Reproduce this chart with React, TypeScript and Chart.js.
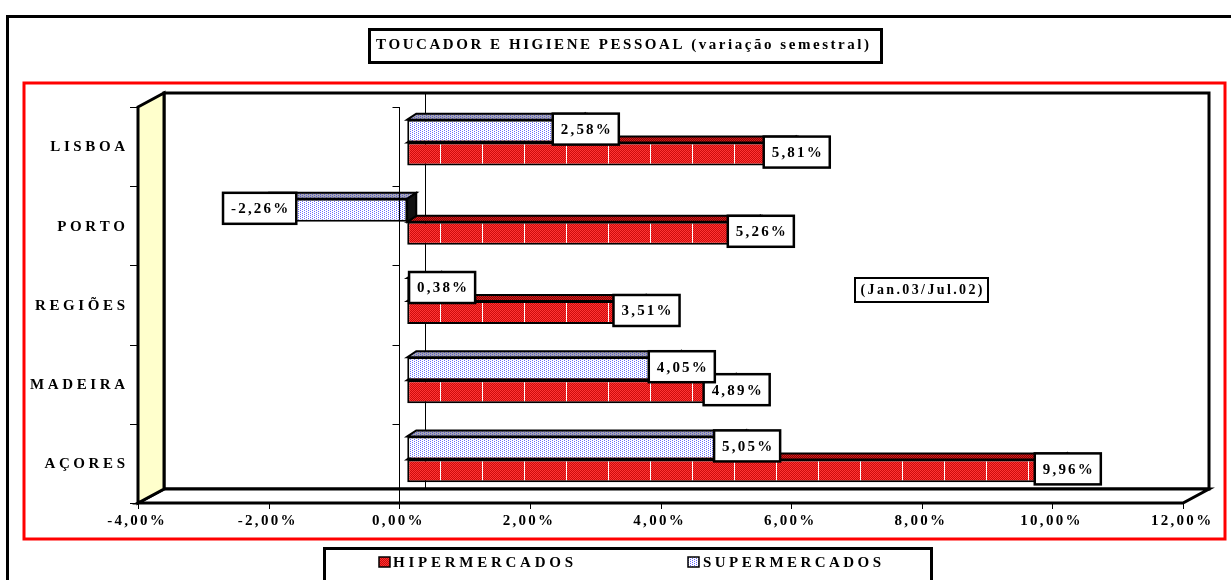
import React, { useEffect, useRef } from "react";
import { Chart, registerables } from "chart.js";

Chart.register(...registerables);

const TITLE = "TOUCADOR E HIGIENE PESSOAL (variação semestral)";
const PERIOD = "(Jan.03/Jul.02)";
const CATEGORIES = ["LISBOA", "PORTO", "REGIÕES", "MADEIRA", "AÇORES"];
const HIPER = [5.81, 5.26, 3.51, 4.89, 9.96];
const SUPER = [2.58, -2.26, 0.38, 4.05, 5.05];
const SERIES_NAMES = ["HIPERMERCADOS", "SUPERMERCADOS"];
const X_TICKS = [-4, -2, 0, 2, 4, 6, 8, 10, 12];
const X_MIN = -4;
const X_MAX = 12;

const W = 1231;
const H = 580;
const FONT = '"Liberation Serif", "Times New Roman", serif';

const fmtPct = (v: number) => v.toFixed(2).replace(".", ",") + "%";

function natWidth(ctx: CanvasRenderingContext2D, text: string) {
  let w = 0;
  for (const ch of Array.from(text)) w += ctx.measureText(ch).width;
  return w;
}
function spacedWidth(ctx: CanvasRenderingContext2D, text: string, s: number) {
  return natWidth(ctx, text) + s * (Array.from(text).length - 1);
}
function fitSpacing(ctx: CanvasRenderingContext2D, text: string, target: number) {
  return (target - natWidth(ctx, text)) / (Array.from(text).length - 1);
}
function drawSpaced(
  ctx: CanvasRenderingContext2D,
  text: string,
  x: number,
  y: number,
  s: number,
  align: "left" | "center" | "right"
) {
  const w = spacedWidth(ctx, text, s);
  let cx = align === "left" ? x : align === "center" ? x - w / 2 : x - w;
  ctx.textAlign = "left";
  ctx.textBaseline = "middle";
  for (const ch of Array.from(text)) {
    ctx.fillText(ch, cx, y);
    cx += ctx.measureText(ch).width + s;
  }
}

function makePattern(
  target: CanvasRenderingContext2D,
  w: number,
  h: number,
  color: (x: number, y: number) => string
) {
  const c = document.createElement("canvas");
  c.width = w;
  c.height = h;
  const g = c.getContext("2d")!;
  for (let x = 0; x < w; x++)
    for (let y = 0; y < h; y++) {
      g.fillStyle = color(x, y);
      g.fillRect(x, y, 1, 1);
    }
  return target.createPattern(c, "repeat")!;
}

export default function App() {
  const ref = useRef<HTMLCanvasElement | null>(null);

  useEffect(() => {
    const canvas = ref.current!;
    const ctx0 = canvas.getContext("2d")!;

    const redPat = makePattern(ctx0, 42, 2, (x, y) =>
      x === 20 ? "#FFFFFF" : (x + y) % 2 === 0 ? "#FF3434" : "#CC0C0C"
    );
    const redTop = makePattern(ctx0, 2, 2, (x, y) =>
      (x + y) % 2 === 0 ? "#D02020" : "#8A0000"
    );
    const bluePat = makePattern(ctx0, 4, 2, (x, y) =>
      (x === 0 && y === 0) || (x === 2 && y === 1) ? "#6A6AFF" : "#FFFFFF"
    );
    const blueTop = makePattern(ctx0, 4, 2, (x, y) =>
      (x === 0 && y === 0) || (x === 2 && y === 1) ? "#5A5AD0" : "#A8A8B4"
    );

    const BAR_OFF = { dx: 8, dy: -4 };
    const DEPTH = { dx: 26, dy: -14 };
    const BAR_DEPTH = { dx: 9, dy: -6 };

    const box = (
      ctx: CanvasRenderingContext2D,
      x: number,
      y: number,
      w: number,
      h: number,
      lw: number,
      color = "#000"
    ) => {
      ctx.lineWidth = lw;
      ctx.strokeStyle = color;
      ctx.strokeRect(x, y, w, h);
    };

    const poly = (
      ctx: CanvasRenderingContext2D,
      pts: number[][],
      fill: any,
      lw: number
    ) => {
      ctx.beginPath();
      ctx.moveTo(pts[0][0], pts[0][1]);
      for (let i = 1; i < pts.length; i++) ctx.lineTo(pts[i][0], pts[i][1]);
      ctx.closePath();
      if (fill) {
        ctx.fillStyle = fill;
        ctx.fill();
      }
      if (lw > 0) {
        ctx.lineWidth = lw;
        ctx.strokeStyle = "#000";
        ctx.lineJoin = "miter";
        ctx.stroke();
      }
    };

    const decor = {
      id: "decor",
      beforeDraw(chart: any) {
        const ctx: CanvasRenderingContext2D = chart.ctx;
        const xs = chart.scales.x;
        const ys = chart.scales.y;
        const ca = chart.chartArea;
        ctx.save();
        ctx.fillStyle = "#FFFFFF";
        ctx.fillRect(0, 0, W, H);

        // outer frame
        box(ctx, 7.5, 16.5, 1300, 700, 3);
        // title
        ctx.fillStyle = "#FFF";
        ctx.fillRect(369.5, 29.5, 512, 33);
        box(ctx, 369.5, 29.5, 512, 33, 3);
        ctx.fillStyle = "#000";
        ctx.font = `bold 15px ${FONT}`;
        drawSpaced(ctx, TITLE, 376, 45, fitSpacing(ctx, TITLE, 493), "left");

        // red frame
        box(ctx, 24, 83, 1201, 456, 3, "#FF0000");

        // 3D walls
        const fx = (v: number) => xs.getPixelForValue(v) - BAR_OFF.dx;
        const fTop = ca.top - BAR_OFF.dy;
        const fBot = ca.bottom - BAR_OFF.dy;
        const L = fx(X_MIN);
        const R = fx(X_MAX);
        const d = DEPTH;
        poly(
          ctx,
          [
            [L + d.dx, fTop + d.dy],
            [R + d.dx, fTop + d.dy],
            [R + d.dx, fBot + d.dy],
            [L + d.dx, fBot + d.dy],
          ],
          "#FFFFFF",
          3
        );
        // back-wall zero line
        ctx.lineWidth = 1;
        ctx.strokeStyle = "#000";
        ctx.beginPath();
        ctx.moveTo(Math.round(fx(0) + d.dx) + 0.5, fTop + d.dy);
        ctx.lineTo(Math.round(fx(0) + d.dx) + 0.5, fBot + d.dy);
        ctx.stroke();
        poly(
          ctx,
          [
            [L, fBot],
            [L + d.dx, fBot + d.dy],
            [R + d.dx, fBot + d.dy],
            [R, fBot],
          ],
          "#FFFFFF",
          3
        );
        poly(
          ctx,
          [
            [L, fTop],
            [L + d.dx, fTop + d.dy],
            [L + d.dx, fBot + d.dy],
            [L, fBot],
          ],
          "#FFFFCC",
          3
        );

        // category ticks on left
        const band = ys.getPixelForValue(1) - ys.getPixelForValue(0);
        ctx.lineWidth = 1;
        for (let i = 0; i <= CATEGORIES.length; i++) {
          const y = Math.round(ys.getPixelForValue(0) - band / 2 + i * band - BAR_OFF.dy) + 0.5;
          ctx.beginPath();
          ctx.moveTo(L - 8, y);
          ctx.lineTo(L, y);
          ctx.stroke();
        }

        // x ticks and labels
        ctx.font = `bold 15px ${FONT}`;
        ctx.fillStyle = "#000";
        for (const t of X_TICKS) {
          const x = Math.round(fx(t)) + 0.5;
          ctx.beginPath();
          ctx.moveTo(x, fBot);
          ctx.lineTo(x, fBot + 6);
          ctx.stroke();
          drawSpaced(ctx, fmtPct(t), fx(t) - 2, fBot + 18, 2.3, "center");
        }

        // category labels
        ctx.font = `bold 15px ${FONT}`;
        CATEGORIES.forEach((c, i) => {
          drawSpaced(ctx, c, L - 13, ys.getPixelForValue(i) + 5, 3.6, "right");
        });

        // period box
        ctx.fillStyle = "#FFF";
        ctx.fillRect(855, 278, 133, 24);
        box(ctx, 855, 278, 133, 24, 2);
        ctx.fillStyle = "#000";
        ctx.font = `bold 14px ${FONT}`;
        drawSpaced(ctx, PERIOD, 921.5, 290.5, fitSpacing(ctx, PERIOD, 122), "center");

        // legend
        ctx.fillStyle = "#FFF";
        ctx.fillRect(324.5, 548.5, 607, 60);
        box(ctx, 324.5, 548.5, 607, 60, 3);
        const items = [
          { name: SERIES_NAMES[0], pat: redPat, sx: 379, tx: 393, tw: 180 },
          { name: SERIES_NAMES[1], pat: bluePat, sx: 688, tx: 703, tw: 178 },
        ];
        ctx.font = `bold 15px ${FONT}`;
        for (const it of items) {
          ctx.fillStyle = it.pat;
          ctx.fillRect(it.sx, 557, 11, 10);
          ctx.lineWidth = 1.5;
          ctx.strokeStyle = "#000";
          ctx.strokeRect(it.sx, 557, 11, 10);
          ctx.fillStyle = "#000";
          drawSpaced(ctx, it.name, it.tx, 563, fitSpacing(ctx, it.name, it.tw), "left");
        }
        ctx.restore();
      },
      afterDatasetDraw(chart: any, args: any) {
        const ctx: CanvasRenderingContext2D = chart.ctx;
        const isBlue = args.index === 0;
        const bd = BAR_DEPTH;
        ctx.save();
        for (const el of args.meta.data) {
          const p = el.getProps(["x", "y", "base", "height"], true);
          const top = p.y - p.height / 2;
          const bot = p.y + p.height / 2;
          const l = Math.min(p.x, p.base);
          const r = Math.max(p.x, p.base);
          poly(
            ctx,
            [
              [l, top],
              [l + bd.dx, top + bd.dy],
              [r + bd.dx, top + bd.dy],
              [r, top],
            ],
            isBlue ? blueTop : redTop,
            2
          );
          poly(
            ctx,
            [
              [r, top],
              [r + bd.dx, top + bd.dy],
              [r + bd.dx, bot + bd.dy],
              [r, bot],
            ],
            isBlue ? "#111111" : "#6A0000",
            2
          );
        }
        ctx.restore();
      },
      afterDatasetsDraw(chart: any) {
        const ctx: CanvasRenderingContext2D = chart.ctx;
        const xs = chart.scales.x;
        const ys = chart.scales.y;
        const ca = chart.chartArea;
        ctx.save();
        // front zero axis
        const x0 = Math.round(xs.getPixelForValue(0) - BAR_OFF.dx) + 0.5;
        const fTop = ca.top - BAR_OFF.dy;
        const fBot = ca.bottom - BAR_OFF.dy;
        ctx.lineWidth = 1;
        ctx.strokeStyle = "#000";
        ctx.beginPath();
        ctx.moveTo(x0, fTop);
        ctx.lineTo(x0, fBot);
        ctx.stroke();
        const band = ys.getPixelForValue(1) - ys.getPixelForValue(0);
        for (let i = 0; i < CATEGORIES.length; i++) {
          const y = Math.round(ys.getPixelForValue(0) - band / 2 + i * band - BAR_OFF.dy) + 0.5;
          ctx.beginPath();
          ctx.moveTo(x0 - 7, y);
          ctx.lineTo(x0, y);
          ctx.stroke();
        }

        // value labels: red series first, then blue
        ctx.font = `bold 15px ${FONT}`;
        const order = [1, 0];
        for (const di of order) {
          const meta = chart.getDatasetMeta(di);
          const vals = chart.data.datasets[di].data as number[];
          meta.data.forEach((el: any, i: number) => {
            const p = el.getProps(["x", "y"], true);
            const v = vals[i];
            const txt = fmtPct(v);
            const w = spacedWidth(ctx, txt, 2.2) + 16;
            const h = 31;
            const left = v >= 0 ? p.x - 23 : p.x - w / 2;
            const cy = p.y - 2;
            ctx.fillStyle = "#FFF";
            ctx.fillRect(left, cy - h / 2, w, h);
            ctx.lineWidth = 2.5;
            ctx.strokeStyle = "#000";
            ctx.strokeRect(left, cy - h / 2, w, h);
            ctx.fillStyle = "#000";
            drawSpaced(ctx, txt, left + w / 2, cy + 1, 2.2, "center");
          });
        }
        ctx.restore();
      },
    };

    const chart = new Chart(canvas, {
      type: "bar",
      data: {
        labels: CATEGORIES,
        datasets: [
          {
            label: SERIES_NAMES[1],
            data: SUPER,
            backgroundColor: bluePat as any,
            borderColor: "#000",
            borderWidth: 2,
            borderSkipped: false,
            categoryPercentage: 0.58,
            barPercentage: 1,
          },
          {
            label: SERIES_NAMES[0],
            data: HIPER,
            backgroundColor: redPat as any,
            borderColor: "#000",
            borderWidth: 2,
            borderSkipped: false,
            categoryPercentage: 0.58,
            barPercentage: 1,
          },
        ],
      },
      options: {
        indexAxis: "y",
        responsive: false,
        animation: false,
        events: [],
        layout: { padding: { left: 146, right: 40, top: 103, bottom: 81 } },
        scales: {
          x: { type: "linear", min: X_MIN, max: X_MAX, display: false },
          y: { type: "category", display: false, offset: true },
        },
        plugins: {
          legend: { display: false },
          title: { display: false },
          tooltip: { enabled: false },
        },
      },
      plugins: [decor],
    });
    return () => chart.destroy();
  }, []);

  return (
    <div style={{ position: "fixed", left: 0, top: 0, width: W, height: H, background: "#fff" }}>
      <canvas ref={ref} width={W} height={H} style={{ display: "block", width: W, height: H }} />
    </div>
  );
}
